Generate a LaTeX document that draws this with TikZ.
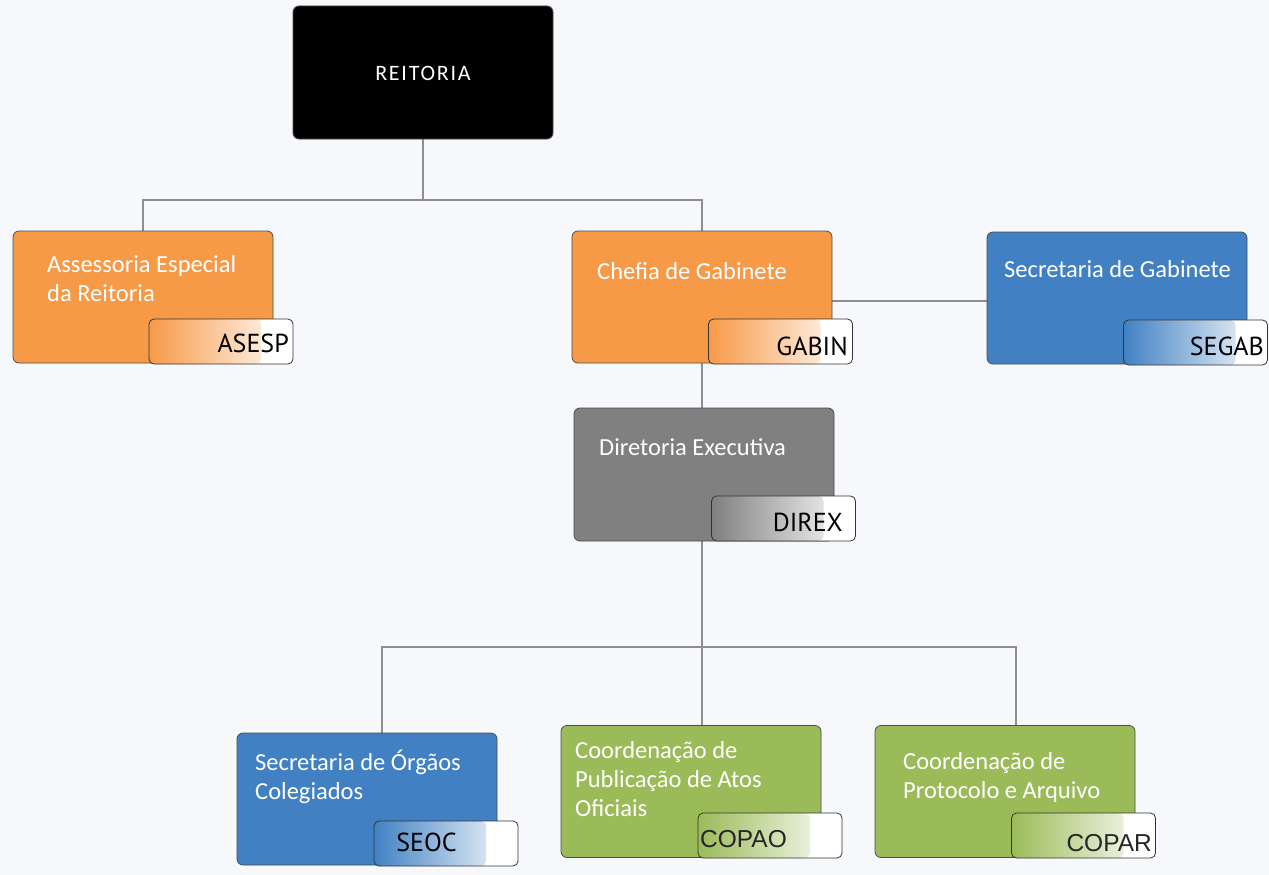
\documentclass[tikz,border=0pt]{standalone}
\usepackage{fontspec}
\setmainfont{Carlito}
\newfontfamily\tabfont{PT Sans}
\newfontfamily\arialfont{Liberation Sans}
\definecolor{bg}{HTML}{F6F8FB}
\definecolor{orng}{HTML}{F79A48}
\definecolor{blu}{HTML}{4181C3}
\definecolor{grn}{HTML}{9BBB59}
\definecolor{gry}{HTML}{808080}
\definecolor{lin}{HTML}{8E8E8E}
\pgfdeclarelayer{backfill}
\pgfdeclarelayer{lines}
\pgfsetlayers{backfill,lines,main}
\tikzset{
  unit/.style={draw=black!70, line width=0.8pt, rounded corners=6pt,
    minimum width=260pt, minimum height=132pt, inner sep=0pt, fill=#1},
  tabbox/.style={draw=black!80, line width=0.8pt, rounded corners=5pt,
    minimum width=144pt, minimum height=45pt, inner sep=0pt, fill=white,
    path picture={\shade[left color=#1, middle color=#1!78!white, right color=white]
      (path picture bounding box.south west) rectangle
      ([xshift=-32pt]path picture bounding box.north east);}},
  boxtext/.style={text=white, align=left, anchor=base west, inner sep=0pt,
    font=\fontsize{24.5}{29}\selectfont},
  tablabel/.style={text=black, anchor=base east, inner sep=0pt,
    font=\tabfont\fontsize{26}{26}\selectfont},
  tablabelb/.style={text=black!85, anchor=base east, inner sep=0pt,
    font=\arialfont\fontsize{24.5}{24.5}\selectfont},
  conn/.style={draw=lin, line width=1.2pt}
}
\begin{document}
\begin{tikzpicture}[x=1pt,y=-1pt]
\begin{pgfonlayer}{backfill}
\fill[bg] (0,0) rectangle (1269,875);
\end{pgfonlayer}
\useasboundingbox (0,0) rectangle (1269,875);

\coordinate (bus1) at (423,200);
\coordinate (bus2) at (702,647);
\node[unit=black, minimum height=133pt] (reit) at (423,72.5) {};
\node[unit=orng] (asesp) at (143,297) {};
\node[unit=orng] (gabin) at (702,297) {};
\node[unit=blu] (segab) at (1117,298) {};
\node[unit=gry, minimum height=133pt] (direx) at (704,474.5) {};
\node[unit=blu] (seoc) at (367,799) {};
\node[unit=grn] (copao) at (691,791.5) {};
\node[unit=grn] (copar) at (1005,791.5) {};

\begin{pgfonlayer}{lines}
\draw[conn] (reit.south) -- (bus1);
\draw[conn] (asesp.north) |- (bus1) -| (gabin.north);
\draw[conn] ([yshift=-4pt]gabin.east) -- ([yshift=-4pt]gabin.east -| segab.west);
\draw[conn] (gabin.south) -- (gabin.south |- direx.north);
\draw[conn] (bus2 |- direx.south) -- (bus2);
\draw[conn] ([xshift=15pt]seoc.north) |- (bus2) -| ([xshift=11pt]copar.north);
\draw[conn] (bus2) -- ([xshift=11pt]copao.north);
\end{pgfonlayer}

% tabs
\node[tabbox=orng] (asesp-tab) at (221,341.5) {};
\node[tabbox=orng] (gabin-tab) at (780.5,341.5) {};
\node[tabbox=blu] (segab-tab) at (1195.5,342.5) {};
\node[tabbox=gry] (direx-tab) at (783.5,518.5) {};
\node[tabbox=blu] (seoc-tab) at (446,843.5) {};
\node[tabbox=grn] (copao-tab) at (770,835.5) {};
\node[tabbox=grn] (copar-tab) at (1083.5,835.5) {};

% main texts
\node[text=white, inner sep=0pt, font=\addfontfeature{LetterSpace=8}\fontsize{22}{22}\selectfont] (reit-t) at (423,73) {REITORIA};
\node[boxtext] (asesp-t) at (47,301) {Assessoria Especial\\da Reitoria};
\node[boxtext] (gabin-t) at (597,279) {Chefia de Gabinete};
\node[boxtext] (segab-t) at (1004,277) {Secretaria de Gabinete};
\node[boxtext] (direx-t) at (599,455) {Diretoria Executiva};
\node[boxtext] (seoc-t) at (255,799) {Secretaria de Órgãos\\Colegiados};
\node[boxtext] (copao-t) at (575,816) {Coordenação de\\Publicação de Atos\\Oficiais};
\node[boxtext] (copar-t) at (903,798) {Coordenação de\\Protocolo e Arquivo};

% tab labels
\node[tablabel] (asesp-l) at (289,352) {ASESP};
\node[tablabel] (gabin-l) at (848,355) {GABIN};
\node[tablabel] (segab-l) at (1264,355) {SEGAB};
\node[tablabel] (direx-l) at (843,531) {DIREX};
\node[tablabel] (seoc-l) at (457,851) {SEOC};
\node[tablabelb] (copao-l) at (787,847) {COPAO};
\node[tablabelb] (copar-l) at (1152,851) {COPAR};
\end{tikzpicture}
\end{document}
